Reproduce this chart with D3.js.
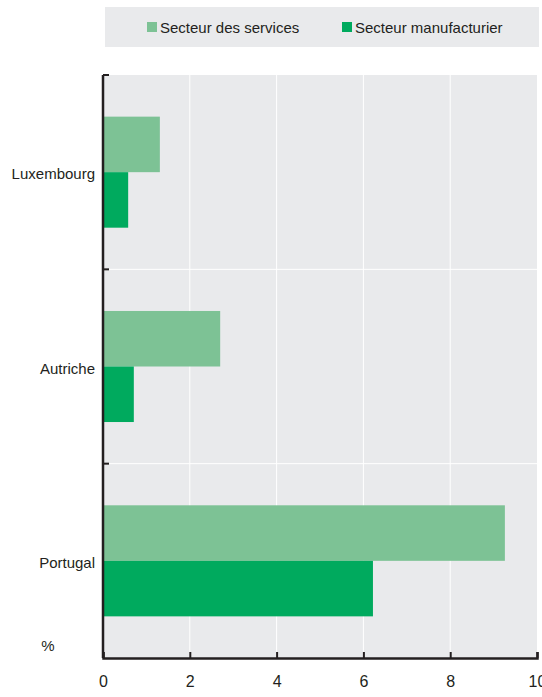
<!DOCTYPE html>
<meta charset="utf-8">
<style>
body { margin: 0; background: #fff; }
text { font-family: "Liberation Sans", Arial, Helvetica, sans-serif; fill: #231f20; }
</style>
<svg id="chart" width="542" height="697"></svg>
<script src="https://d3js.org/d3.v7.min.js"></script>
<script>

var countries = ["Luxembourg", "Autriche", "Portugal"];
var seriesNames = ["Secteur des services", "Secteur manufacturier"];
var services = [1.31, 2.7, 9.26];
var manufacturing = [0.58, 0.71, 6.22];
var xTicks = [0, 2, 4, 6, 8, 10];
var colors = ["#7dc295", "#00aa5e"];

var svg = d3.select("#chart"),
    plotLeft = 103, plotRight = 537, plotTop = 75, plotBottom = 658;

// legend box
var legend = svg.append("g");
legend.append("rect")
    .attr("x", 105).attr("y", 7).attr("width", 434).attr("height", 40)
    .attr("fill", "#e9eaec");
var legendX = [147, 342];
seriesNames.forEach(function(name, i) {
  legend.append("rect")
      .attr("x", legendX[i]).attr("y", 22).attr("width", 10).attr("height", 10)
      .attr("fill", colors[i]);
  legend.append("text")
      .attr("x", legendX[i] + 13).attr("y", 33)
      .style("font-size", "15px")
      .text(name);
});

var x = d3.scaleLinear().domain([0, 10]).range([plotLeft, plotRight]);
var y = d3.scaleBand().domain(countries).range([plotTop, plotBottom]);
var inner = d3.scaleBand().domain(seriesNames)
    .range([0, y.bandwidth()]).paddingOuter(0.75).paddingInner(0);

// plot background
svg.append("rect")
    .attr("x", plotLeft).attr("y", plotTop)
    .attr("width", plotRight - plotLeft).attr("height", plotBottom - plotTop)
    .attr("fill", "#e9eaec");

// vertical gridlines
svg.append("g").selectAll("line")
  .data(xTicks.slice(1, -1))
  .join("line")
    .attr("x1", function(d) { return x(d); }).attr("x2", function(d) { return x(d); })
    .attr("y1", plotTop).attr("y2", plotBottom)
    .attr("stroke", "#fff").attr("stroke-width", 1);

// horizontal separators between categories
svg.append("g").selectAll("line")
  .data(countries.slice(1))
  .join("line")
    .attr("x1", plotLeft).attr("x2", plotRight)
    .attr("y1", function(d) { return y(d); }).attr("y2", function(d) { return y(d); })
    .attr("stroke", "#fff").attr("stroke-width", 1);

// bars
var rows = countries.map(function(c, i) {
  return { country: c, values: [services[i], manufacturing[i]] };
});
var groups = svg.append("g").selectAll("g")
  .data(rows)
  .join("g")
    .attr("transform", function(d) { return "translate(0," + y(d.country) + ")"; });
groups.selectAll("rect")
  .data(function(d) { return d.values.map(function(v, i) { return { key: seriesNames[i], value: v, i: i }; }); })
  .join("rect")
    .attr("x", x(0))
    .attr("y", function(d) { return inner(d.key); })
    .attr("width", function(d) { return x(d.value) - x(0); })
    .attr("height", inner.bandwidth())
    .attr("fill", function(d) { return colors[d.i]; });

// x axis
var xAxis = svg.append("g")
    .attr("transform", "translate(0," + plotBottom + ")")
    .call(d3.axisBottom(x).tickValues(xTicks).tickSize(-6).tickPadding(18).tickFormat(d3.format("d")));
xAxis.select(".domain").attr("stroke", "#231f20").attr("stroke-width", 2.5);
xAxis.selectAll(".tick line").attr("stroke", "#231f20").attr("stroke-width", 2);
xAxis.selectAll(".tick text").style("font-size", "16px").attr("fill", "#231f20");

// y axis line
svg.append("line")
    .attr("x1", plotLeft).attr("x2", plotLeft).attr("y1", plotTop).attr("y2", plotBottom)
    .attr("stroke", "#231f20").attr("stroke-width", 2.5);
svg.append("g").selectAll("line")
  .data(countries.slice(1))
  .join("line")
    .attr("x1", plotLeft).attr("x2", plotLeft + 6)
    .attr("y1", function(d) { return y(d); }).attr("y2", function(d) { return y(d); })
    .attr("stroke", "#231f20").attr("stroke-width", 2);
svg.append("line")
    .attr("x1", plotLeft).attr("x2", plotLeft + 6).attr("y1", plotTop).attr("y2", plotTop)
    .attr("stroke", "#231f20").attr("stroke-width", 2);

// category labels
svg.append("g").selectAll("text")
  .data(countries)
  .join("text")
    .attr("x", 95)
    .attr("y", function(d) { return y(d) + y.bandwidth() / 2 + 2; })
    .attr("dy", "0.35em")
    .attr("text-anchor", "end")
    .style("font-size", "15px")
    .text(function(d) { return d; });

svg.append("text")
    .attr("x", 48).attr("y", 651)
    .attr("text-anchor", "middle")
    .style("font-size", "15px")
    .text("%");

</script>
